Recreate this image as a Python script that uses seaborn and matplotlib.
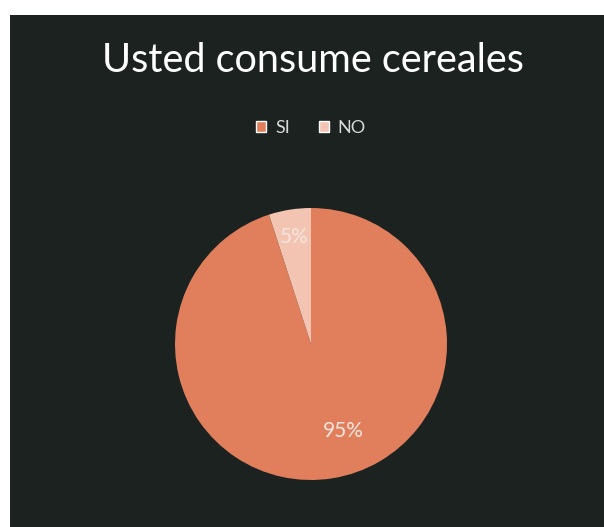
import matplotlib
matplotlib.use("Agg")
import matplotlib.pyplot as plt
import seaborn as sns
import numpy as np

categories = ["SI", "NO"]
values = [95, 5]
labels_pct = ["95%", "5%"]
colors = ["#e17f5c", "#f3c4b2"]
title = "Usted consume cereales"

sns.set_style("white")
plt.rcParams["font.family"] = ["Lato", "DejaVu Sans"]

W, H = 604, 527
fig = plt.figure(figsize=(W / 100, H / 100), dpi=100)
fig.patch.set_facecolor("white")
bg = fig.add_axes([10 / W, 0, 1 - 10 / W, 1 - 15 / H], zorder=-5)
bg.set_facecolor("#1c2220")
bg.set_xticks([])
bg.set_yticks([])
for s in bg.spines.values():
    s.set_visible(False)

cx, cy, r = 311, 344, 136
ax = fig.add_axes([(cx - r) / W, (H - cy - r) / H, 2 * r / W, 2 * r / H], zorder=2)
ax.set_facecolor("none")
wedges, _ = ax.pie(values, colors=colors, startangle=90, counterclock=False, radius=1,
                   wedgeprops=dict(linewidth=0))
ax.set_xlim(-1, 1)
ax.set_ylim(-1, 1)
ax.set_aspect("equal")
ax.axis("off")

# percentage labels
dists = [0.68, 0.80]
for w, lab, d in zip(wedges, labels_pct, dists):
    ang = np.deg2rad((w.theta1 + w.theta2) / 2)
    if lab == "95%":
        ang = np.deg2rad(-69.6)
    ax.text(d * np.cos(ang), d * np.sin(ang), lab, ha="center", va="center",
            color="#f4e6df", fontsize=15)

fig.text(313 / W, 1 - 61 / H, title, ha="center", va="center", color="white", fontsize=28.5)

handles = [plt.Rectangle((0, 0), 1, 1, facecolor=c) for c in colors]
leg = fig.legend(handles, categories, loc="center", bbox_to_anchor=(311 / W, 1 - 128 / H),
                 ncol=2, frameon=False, fontsize=13, handlelength=0.55, handleheight=0.55,
                 handletextpad=0.5, columnspacing=1.6, labelcolor="#d9d9d9")

fig.savefig("out.png", dpi=100, facecolor=fig.get_facecolor())
